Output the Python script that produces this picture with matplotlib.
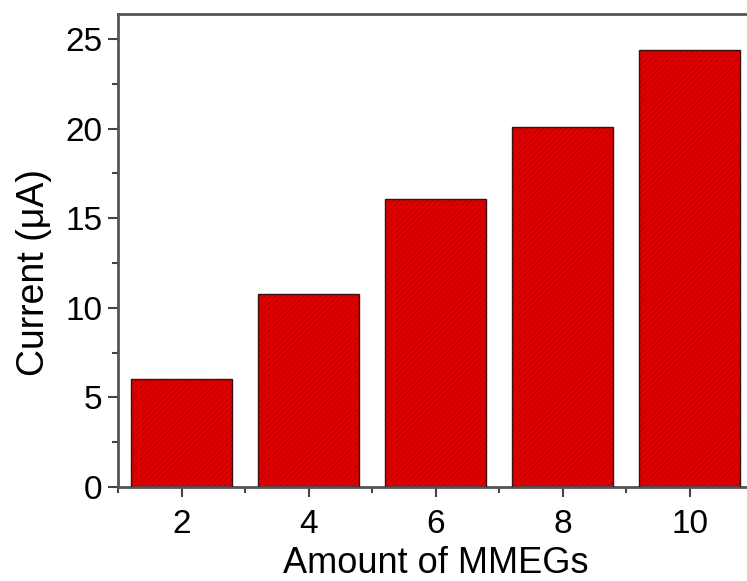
import matplotlib
matplotlib.use("Agg")
import matplotlib.pyplot as plt
from matplotlib.ticker import MultipleLocator

amounts = [2, 4, 6, 8, 10]
currents = [6.03, 10.78, 16.08, 20.09, 24.39]
yticks = [0, 5, 10, 15, 20, 25]
xlabel = "Amount of MMEGs"
ylabel = "Current (\u03bcA)"

plt.rcParams['font.family'] = ['Liberation Sans', 'DejaVu Sans']
plt.rcParams['hatch.linewidth'] = 0.6

fig = plt.figure(figsize=(7.47, 5.81), dpi=100)
W, H = 747, 581
left, right, top, bottom = 118, 753, 14, 487
ax = fig.add_axes([left / W, 1 - bottom / H, (right - left) / W, (bottom - top) / H])

ax.bar(amounts, currents, width=1.6, color='#e00000', edgecolor='#b80000',
       hatch='//////', linewidth=0, zorder=2)
ax.bar(amounts, currents, width=1.6, fill=False, edgecolor='#3a1010',
       linewidth=1.0, zorder=3)

ax.set_xlim(1, 11)
ax.set_ylim(0, 26.4)
ax.set_xticks(amounts)
ax.set_yticks(yticks)
ax.xaxis.set_minor_locator(MultipleLocator(1))
ax.yaxis.set_minor_locator(MultipleLocator(2.5))

for s in ax.spines.values():
    s.set_color('#555555')
    s.set_linewidth(2)

ax.tick_params(axis='both', which='major', direction='out', length=7, width=1.5,
               color='#444444', labelsize=24, pad=4)
ax.tick_params(axis='x', which='major', pad=9)
ax.tick_params(axis='both', which='minor', direction='out', length=4, width=1.5,
               color='#444444')

ax.set_xlabel(xlabel, fontsize=26, labelpad=4)
ax.set_ylabel(ylabel, fontsize=27)
ax.yaxis.set_label_coords(-(118 - 52) / 635, (487 - 272) / 473)

fig.savefig("out.png", dpi=100)
